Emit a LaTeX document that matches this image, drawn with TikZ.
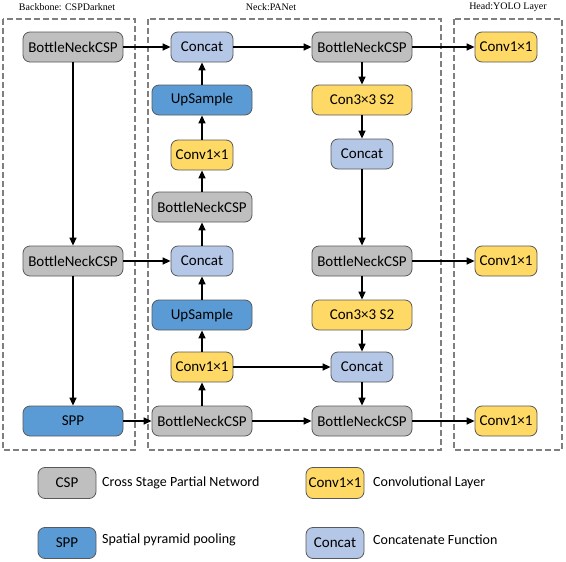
\documentclass[tikz,border=0pt]{standalone}
\usepackage{fontspec}
\setmainfont{Carlito}
\newfontfamily\titlefont{Liberation Serif}
\usetikzlibrary{arrows.meta}
\definecolor{cspgray}{HTML}{BFBFBF}
\definecolor{sppblue}{HTML}{5B9BD5}
\definecolor{catblue}{HTML}{B4C7E7}
\definecolor{convyel}{HTML}{FFD966}
\definecolor{bordergray}{HTML}{595959}
\definecolor{dashgray}{HTML}{7F7F7F}
\tikzset{
  blk/.style={draw=bordergray, line width=0.8pt, rounded corners=7pt, minimum height=30pt,
    inner sep=0pt, font=\fontsize{15}{15}\selectfont, text=black},
  wide/.style={blk, minimum width=100pt},
  narrow/.style={blk, minimum width=62pt},
  csp/.style={wide, fill=cspgray},
  spp/.style={wide, fill=sppblue},
  upsm/.style={wide, fill=sppblue},
  conv/.style={narrow, fill=convyel},
  convw/.style={wide, fill=convyel},
  cat/.style={narrow, fill=catblue},
  legbox/.style={blk, minimum width=58pt, minimum height=31pt},
  legtxt/.style={anchor=west, inner sep=0pt, font=\fontsize{14}{14}\selectfont},
  arr/.style={line width=1.4pt, -{Triangle[length=8pt,width=7pt]}},
  group/.style={draw=dashgray, line width=1.1pt, dash pattern=on 6pt off 3pt},
  ttl/.style={font=\titlefont\fontsize{10}{10}\selectfont, inner sep=0pt}
}
\begin{document}
\begin{tikzpicture}[x=1pt,y=-1pt]
\useasboundingbox (0,0) rectangle (566,562);
% groups
\draw[group] (3,19) rectangle (135,450);
\draw[group] (148,19) rectangle (441,450);
\draw[group] (454,19) rectangle (562,450);
\node[ttl] (t1) at (67,7) {Backbone: CSPDarknet};
\node[ttl] (t2) at (271,7) {Neck:PANet};
\node[ttl] (t3) at (508,7) {Head:YOLO Layer};
% backbone
\node[csp] (b1) at (73,47) {BottleNeckCSP};
\node[csp] (b2) at (73,261) {BottleNeckCSP};
\node[spp] (b3) at (73,421) {SPP};
% neck left column
\node[cat] (c1) at (202,47) {Concat};
\node[upsm] (u1) at (202,100) {UpSample};
\node[conv] (v1) at (202,155) {Conv1×1};
\node[csp] (n1) at (202,207) {BottleNeckCSP};
\node[cat] (c2) at (202,261) {Concat};
\node[upsm] (u2) at (202,315) {UpSample};
\node[conv] (v2) at (202,367) {Conv1×1};
\node[csp] (n2) at (202,421) {BottleNeckCSP};
% neck right column
\node[csp] (r1) at (362,47) {BottleNeckCSP};
\node[convw] (s1) at (362,100) {Con3×3 S2};
\node[cat] (c3) at (362,154) {Concat};
\node[csp] (r2) at (362,261) {BottleNeckCSP};
\node[convw] (s2) at (362,315) {Con3×3 S2};
\node[cat] (c4) at (362,367) {Concat};
\node[csp] (r3) at (362,421) {BottleNeckCSP};
% head
\node[conv] (h1) at (506,47) {Conv1×1};
\node[conv] (h2) at (506,261) {Conv1×1};
\node[conv] (h3) at (506,421) {Conv1×1};
% connectors backbone
\draw[arr] (b1) -- (c1);
\draw[arr] (b1) -- (b2);
\draw[arr] (b2) -- (c2);
\draw[arr] (b2) -- (b3);
\draw[arr] (b3) -- (n2);
% neck up path
\draw[arr] (n2) -- (v2);
\draw[arr] (v2) -- (u2);
\draw[arr] (u2) -- (c2);
\draw[arr] (c2) -- (n1);
\draw[arr] (n1) -- (v1);
\draw[arr] (v1) -- (u1);
\draw[arr] (u1) -- (c1);
\draw[arr] (c1) -- (r1);
% neck down path
\draw[arr] (r1) -- (s1);
\draw[arr] (s1) -- (c3);
\draw[arr] (c3) -- (r2);
\draw[arr] (r2) -- (s2);
\draw[arr] (s2) -- (c4);
\draw[arr] (c4) -- (r3);
\draw[arr] (v2) -- (c4);
\draw[arr] (n2) -- (r3);
% head
\draw[arr] (r1) -- (h1);
\draw[arr] (r2) -- (h2);
\draw[arr] (r3) -- (h3);
% legend
\node[legbox, fill=cspgray] (l1) at (67,483) {CSP};
\node[legtxt] (l1t) at (102,483) {Cross Stage Partial Netword};
\node[legbox, fill=sppblue] (l2) at (67,543) {SPP};
\node[legtxt] (l2t) at (102,540) {Spatial pyramid pooling};
\node[legbox, fill=convyel] (l3) at (335,483) {Conv1×1};
\node[legtxt] (l3t) at (373,483) {Convolutional Layer};
\node[legbox, fill=catblue] (l4) at (335,543) {Concat};
\node[legtxt] (l4t) at (373,540) {Concatenate Function};
\end{tikzpicture}
\end{document}
